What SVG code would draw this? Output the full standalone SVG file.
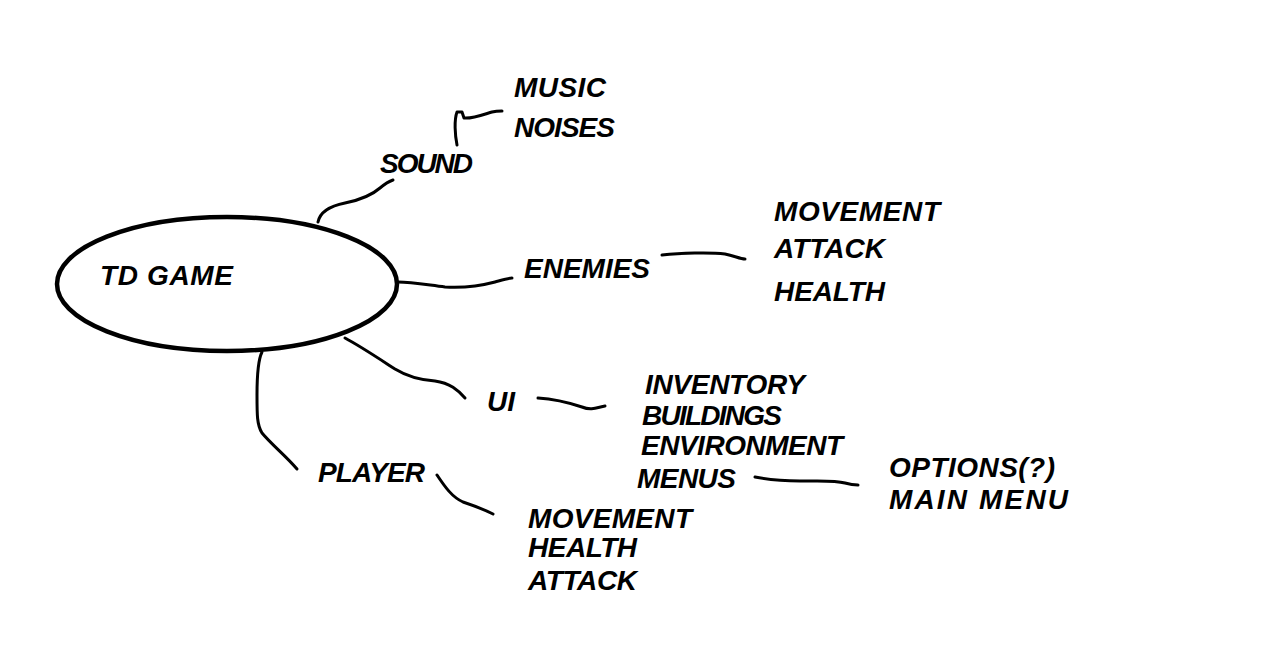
<svg xmlns="http://www.w3.org/2000/svg" width="1284" height="648" viewBox="0 0 1284 648">
<style>
text{font-family:"Liberation Sans",Arial,sans-serif;font-weight:bold;font-style:italic;font-size:28px;fill:#000}
.c{fill:none;stroke:#000;stroke-width:3;stroke-linecap:round;stroke-linejoin:round}
</style>
<rect width="1284" height="648" fill="#fff"/>
<g id="connectors">
<path class="c" d="M318,222 C320,212 330,206 345,203 C360,200 372,195 380,188 C386,183 390,181 393,180"/>
<path class="c" d="M457,145 C455,135 454,120 457,112 L462,112 L464,118 C472,119 485,114 492,112 C496,111 500,111 502,111"/>
<path class="c" d="M398,282 C412,282 428,285 445,287 C462,288 480,286 495,282 C502,280 508,278 512,278"/>
<path class="c" d="M662,255 C680,253 710,252 725,254 C735,256 740,259 745,259"/>
<path class="c" d="M345,338 C360,346 378,358 395,369 C408,377 420,380 435,381 C450,383 458,390 465,398"/>
<path class="c" d="M538,398 C555,399 570,403 582,407 C592,411 598,407 605,406"/>
<path class="c" d="M755,477 C765,479 780,481 800,481 C820,481 835,480 845,483 C852,485 856,485 858,485"/>
<path class="c" d="M262,352 C258,360 257,375 257,395 C257,415 257,425 262,433 C272,445 285,455 297,469"/>
<path class="c" d="M437,475 C445,487 452,497 463,502 C475,506 485,510 493,514"/>
</g>
<g id="td-game">
<ellipse cx="227" cy="284" rx="170" ry="67" fill="none" stroke="#000" stroke-width="4.5"/>
<text x="100" y="285" textLength="133" lengthAdjust="spacing">TD GAME</text>
</g>
<g id="sound"><text x="380" y="173" textLength="93" lengthAdjust="spacing">SOUND</text></g>
<g id="sound-items">
<text x="514" y="97" textLength="92" lengthAdjust="spacing">MUSIC</text>
<text x="514" y="137" textLength="101" lengthAdjust="spacing">NOISES</text>
</g>
<g id="enemies"><text x="524" y="278" textLength="126" lengthAdjust="spacing">ENEMIES</text></g>
<g id="enemies-items">
<text x="774" y="221" textLength="166" lengthAdjust="spacing">MOVEMENT</text>
<text x="774" y="258" textLength="111" lengthAdjust="spacing">ATTACK</text>
<text x="774" y="301" textLength="111" lengthAdjust="spacing">HEALTH</text>
</g>
<g id="ui"><text x="487" y="411" textLength="28" lengthAdjust="spacing">UI</text></g>
<g id="ui-items">
<text x="645" y="394" textLength="160" lengthAdjust="spacing">INVENTORY</text>
<text x="642" y="425" textLength="140" lengthAdjust="spacing">BUILDINGS</text>
<text x="641" y="455" textLength="202" lengthAdjust="spacing">ENVIRONMENT</text>
<text x="637" y="488" textLength="99" lengthAdjust="spacing">MENUS</text>
</g>
<g id="menus-items">
<text x="889" y="477" textLength="166" lengthAdjust="spacing">OPTIONS(?)</text>
<text x="889" y="509" textLength="179" lengthAdjust="spacing">MAIN MENU</text>
</g>
<g id="player"><text x="318" y="482" textLength="107" lengthAdjust="spacing">PLAYER</text></g>
<g id="player-items">
<text x="528" y="528" textLength="164" lengthAdjust="spacing">MOVEMENT</text>
<text x="528" y="557" textLength="109" lengthAdjust="spacing">HEALTH</text>
<text x="528" y="590" textLength="109" lengthAdjust="spacing">ATTACK</text>
</g>
</svg>
